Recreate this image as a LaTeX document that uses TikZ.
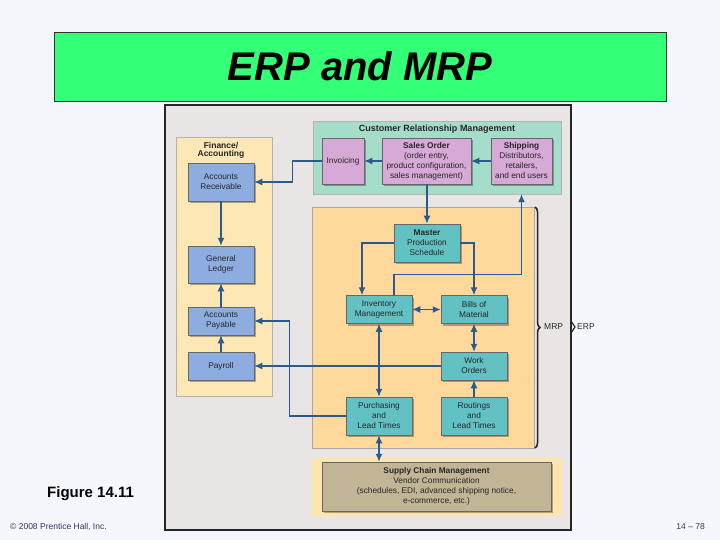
\documentclass[tikz,border=0pt]{standalone}
\usepackage{fontspec}
\setmainfont{Liberation Sans}
\usetikzlibrary{arrows.meta,shadows,decorations.pathreplacing,calc}
\definecolor{bgc}{HTML}{F6F7FC}
\definecolor{titlegreen}{HTML}{33FF77}
\definecolor{framegray}{HTML}{E8E5E4}
\definecolor{finpanel}{HTML}{FDE7B4}
\definecolor{bluebox}{HTML}{8DADE0}
\definecolor{crmc}{HTML}{A6DCCA}
\definecolor{pinkbox}{HTML}{D6A9D6}
\definecolor{mrppanel}{HTML}{FFD99C}
\definecolor{tealbox}{HTML}{62C1C3}
\definecolor{scmouter}{HTML}{FEE5AE}
\definecolor{tanc}{HTML}{C1B596}
\definecolor{arrowc}{HTML}{2C5A8C}
\definecolor{footc}{HTML}{333366}
\begin{document}
\begin{tikzpicture}[x=1pt,y=-1pt,
  box/.style={draw=black!60, line width=0.5pt, inner sep=1pt, align=center,
    font=\fontsize{8.3}{10}\selectfont, text=black!85,
    drop shadow={shadow xshift=2pt,shadow yshift=-2pt,fill=black,opacity=0.3}},
  panel/.style={line width=0.5pt, inner sep=0pt},
  tip/.tip={Latex[length=8pt,width=7pt]},
  arr/.style={draw=arrowc, line width=1.3pt, -tip},
  darr/.style={draw=arrowc, line width=1.3pt, tip-tip},
  lbl/.style={font=\fontsize{8.5}{9}\selectfont, text=black!85, inner sep=1pt}]
\useasboundingbox (0,0) rectangle (720,540);
\fill[bgc] (0,0) rectangle (720,540);

% title
\node[panel, draw=black!80, line width=0.8pt, fill=titlegreen, minimum width=612pt, minimum height=69pt] (titlebox) at (360,66.5) {};
\node[font=\fontsize{40}{40}\selectfont\bfseries\itshape, text=black] (title) at (360,66) {ERP and MRP};

% frame
\node[panel, draw=black!85, line width=1.5pt, fill=framegray, minimum width=406pt, minimum height=425pt] (frame) at (368,317.5) {};
\draw[black!85, line width=1.2pt] (571,321) -- (575,327) -- (571,333);
\node[lbl, anchor=west] (erp) at (576,327) {ERP};

% finance panel
\node[panel, draw=black!30, fill=finpanel, minimum width=96pt, minimum height=259pt] (fin) at (224,266.5) {};
\node[font=\fontsize{8.5}{8}\selectfont\bfseries, text=black!85, align=center] (fintitle) at (221,150) {Finance/\\Accounting};
\node[box, fill=bluebox, minimum width=66pt, minimum height=38pt] (ar) at (221,182) {Accounts\\Receivable};
\node[box, fill=bluebox, minimum width=66pt, minimum height=37pt] (gl) at (221,264.5) {General\\Ledger};
\node[box, fill=bluebox, minimum width=66pt, minimum height=28pt] (ap) at (221,321) {Accounts\\Payable};
\node[box, fill=bluebox, minimum width=66pt, minimum height=28pt] (pay) at (221,366) {Payroll};

% CRM panel
\node[panel, draw=black!30, fill=crmc, minimum width=248pt, minimum height=73pt] (crm) at (437,157.5) {};
\node[font=\fontsize{9}{10}\selectfont\bfseries, text=black!85] (crmtitle) at (437,129) {Customer Relationship Management};
\node[box, fill=pinkbox, minimum width=42pt, minimum height=46pt] (inv) at (343,161) {Invoicing};
\node[box, fill=pinkbox, minimum width=89pt, minimum height=46pt] (so) at (426.5,161) {\textbf{Sales Order}\\(order entry,\\product configuration,\\sales management)};
\node[box, fill=pinkbox, minimum width=61pt, minimum height=46pt] (ship) at (521.5,161) {\textbf{Shipping}\\Distributors,\\retailers,\\and end users};

% MRP panel
\node[panel, draw=black!35, fill=mrppanel, minimum width=222pt, minimum height=241pt] (mrp) at (423,327.5) {};
\draw[decorate, decoration={brace, amplitude=5pt}, line width=1.5pt, black!85] (535,207) -- (535,448);
\node[lbl, anchor=west] (mrplbl) at (543,327) {MRP};
\node[box, fill=tealbox, minimum width=66pt, minimum height=38pt] (mps) at (427,243) {\textbf{Master}\\Production\\Schedule};
\node[box, fill=tealbox, minimum width=66pt, minimum height=28pt] (invm) at (379,309.5) {Inventory\\Management};
\node[box, fill=tealbox, minimum width=66pt, minimum height=28pt] (bom) at (474,309.5) {Bills of\\Material};
\node[box, fill=tealbox, minimum width=66pt, minimum height=28pt] (wo) at (474,366) {Work\\Orders};
\node[box, fill=tealbox, minimum width=66pt, minimum height=38pt] (purch) at (379,416) {Purchasing\\and\\Lead Times};
\node[box, fill=tealbox, minimum width=66pt, minimum height=38pt] (rout) at (474,416) {Routings\\and\\Lead Times};

% SCM
\node[panel, fill=scmouter, minimum width=250pt, minimum height=58pt] (scmo) at (437,487) {};
\node[box, fill=tanc, minimum width=229pt, minimum height=49pt] (scm) at (436.5,486.5) {\textbf{Supply Chain Management}\\Vendor Communication\\(schedules, EDI, advanced shipping notice,\\e-commerce, etc.)};

% connectors
\draw[arr] (so.south -| mps.north) -- (mps.north);
\draw[arr] (ship.west) -- (so.east);
\draw[arr] (so.west) -- (inv.east);
\draw[arr] (inv.west) -- ++(-29,0) |- (ar.east);
\draw[arr] (ar.south) -- (gl.north);
\draw[arr] (ap.north) -- (gl.south);
\draw[arr] (pay.north) -- (ap.south);
\draw[arr] (mps.west) -| ([xshift=-17pt]invm.north);
\draw[arr] (mps.east) -| (bom.north);
\draw[arr] ([xshift=15pt]invm.north) -- ++(0,-21) -| (crm.south -| ship.south);
\draw[darr] (invm.east) -- (bom.west);
\draw[darr] (bom.south) -- (wo.north);
\draw[arr] (rout.north) -- (wo.south);
\draw[darr] (purch.north) -- (invm.south);
\draw[arr] (wo.west) -- (wo.west -| pay.east);
\draw[arr] (purch.west) -- ++(-56,0) |- (ap.east);
\draw[darr] (purch.south) -- (purch.south |- scm.north);

% footer
\node[font=\fontsize{15}{15}\selectfont\bfseries, anchor=west, inner sep=0pt] (fig) at (47,494) {Figure 14.11};
\node[font=\fontsize{8.5}{9}\selectfont, text=footc, anchor=west, inner sep=0pt] (copy) at (10,527) {© 2008 Prentice Hall, Inc.};
\node[font=\fontsize{8.5}{9}\selectfont, text=footc, anchor=east, inner sep=0pt] (page) at (705,527) {14 – 78};
\end{tikzpicture}
\end{document}
